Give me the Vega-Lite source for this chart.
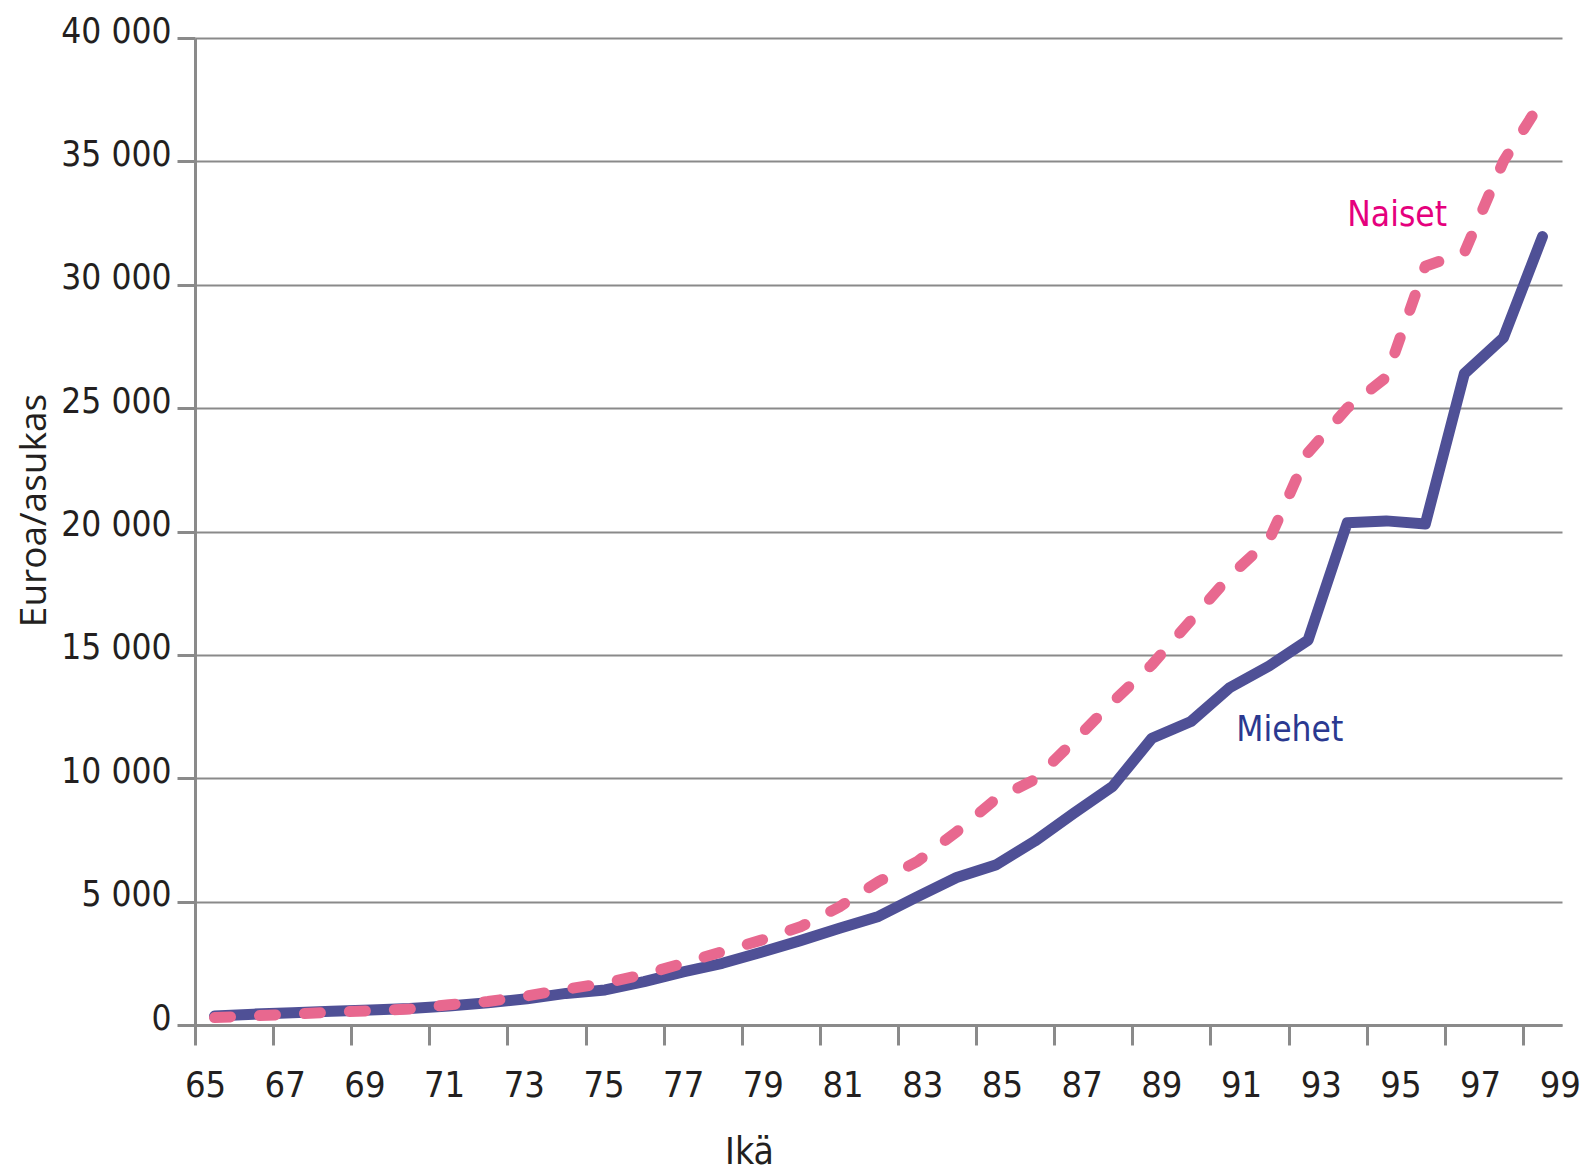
{
  "$schema": "https://vega.github.io/schema/vega-lite/v6.json",
  "width": 1367,
  "height": 987,
  "autosize": {"type": "none"},
  "padding": {"left": 195, "top": 38, "right": 31, "bottom": 146},
  "background": "white",
  "config": {
    "view": {"stroke": null},
    "axis": {
      "labelFont": "DejaVu Sans Condensed",
      "labelColor": "#231f20",
      "titleColor": "#231f20",
      "titleFont": "DejaVu Sans Condensed"
    }
  },
  "datasets": {
    "kulut": [
      {"ika": 65, "miehet": 360, "naiset": 300},
      {"ika": 66, "miehet": 440, "naiset": 370},
      {"ika": 67, "miehet": 500, "naiset": 440},
      {"ika": 68, "miehet": 560, "naiset": 520},
      {"ika": 69, "miehet": 610, "naiset": 580},
      {"ika": 70, "miehet": 670, "naiset": 650},
      {"ika": 71, "miehet": 770, "naiset": 820},
      {"ika": 72, "miehet": 900, "naiset": 950},
      {"ika": 73, "miehet": 1060, "naiset": 1180},
      {"ika": 74, "miehet": 1280, "naiset": 1450},
      {"ika": 75, "miehet": 1420, "naiset": 1700},
      {"ika": 76, "miehet": 1760, "naiset": 2050},
      {"ika": 77, "miehet": 2150, "naiset": 2500},
      {"ika": 78, "miehet": 2500, "naiset": 2970},
      {"ika": 79, "miehet": 2950, "naiset": 3440},
      {"ika": 80, "miehet": 3420, "naiset": 3980},
      {"ika": 81, "miehet": 3920, "naiset": 4790},
      {"ika": 82, "miehet": 4400, "naiset": 5810},
      {"ika": 83, "miehet": 5200, "naiset": 6630},
      {"ika": 84, "miehet": 5980, "naiset": 7830},
      {"ika": 85, "miehet": 6480, "naiset": 9150},
      {"ika": 86, "miehet": 7450, "naiset": 9950},
      {"ika": 87, "miehet": 8580, "naiset": 11500},
      {"ika": 88, "miehet": 9680, "naiset": 13100},
      {"ika": 89, "miehet": 11620, "naiset": 14600},
      {"ika": 90, "miehet": 12300, "naiset": 16400},
      {"ika": 91, "miehet": 13680, "naiset": 18200},
      {"ika": 92, "miehet": 14550, "naiset": 19650},
      {"ika": 93, "miehet": 15600, "naiset": 23200},
      {"ika": 94, "miehet": 20350, "naiset": 25000},
      {"ika": 95, "miehet": 20430, "naiset": 26250},
      {"ika": 96, "miehet": 20300, "naiset": 30750},
      {"ika": 97, "miehet": 26400, "naiset": 31300},
      {"ika": 98, "miehet": 27850, "naiset": 35000},
      {"ika": 99, "miehet": 31950, "naiset": 37500}
    ],
    "nimet": [
      {"ika": 95.28, "arvo": 32400, "teksti": "Naiset", "ryhma": "naiset"},
      {"ika": 92.53, "arvo": 11490, "teksti": "Miehet", "ryhma": "miehet"}
    ]
  },
  "layer": [
    {
      "data": {"name": "kulut"},
      "mark": {"type": "line", "color": "#4f5096", "strokeWidth": 11, "strokeJoin": "round", "strokeCap": "round"},
      "encoding": {
        "x": {
          "field": "ika",
          "type": "quantitative",
          "scale": {"domain": [64.5, 99.5], "nice": false, "zero": false},
          "axis": {
            "values": [64.5, 65.5, 66.5, 67.5, 68.5, 69.5, 70.5, 71.5, 72.5, 73.5, 74.5, 75.5, 76.5, 77.5, 78.5, 79.5, 80.5, 81.5, 82.5, 83.5, 84.5, 85.5, 86.5, 87.5, 88.5, 89.5, 90.5, 91.5, 92.5, 93.5, 94.5, 95.5, 96.5, 97.5, 98.5, 99.5],
            "labelExpr": "(datum.value + 0.5) % 2 == 1 ? format(datum.value + 0.5, 'd') : ''",
            "labelOffset": {"expr": "10 + (datum.value - 64.5) * 0.79"},
            "labelOverlap": false,
            "labelFlush": false,
            "labelBound": false,
            "labelFontSize": 36,
            "labelBaseline": "top",
            "labelPadding": 23,
            "tickSize": 20,
            "tickWidth": 3,
            "tickColor": "#8a8a8a",
            "domainColor": "#8a8a8a",
            "domainWidth": 3,
            "grid": false,
            "title": "Ikä",
            "titleFontSize": 37,
            "titleFontWeight": "normal",
            "titleX": 554,
            "titleY": 138,
            "titleBaseline": "alphabetic",
            "titleAlign": "center"
          }
        },
        "y": {
          "field": "miehet",
          "type": "quantitative",
          "scale": {"domain": [0, 40000], "nice": false},
          "axis": {
            "values": [0, 5000, 10000, 15000, 20000, 25000, 30000, 35000, 40000],
            "labelExpr": "replace(format(datum.value, ','), ',', ' ')",
            "labelFontSize": 35,
            "labelPadding": 6,
            "labelOffset": -7,
            "tickSize": 18,
            "tickWidth": 3,
            "tickColor": "#8a8a8a",
            "domainColor": "#8a8a8a",
            "domainWidth": 3,
            "grid": true,
            "gridColor": "#8a8a8a",
            "gridWidth": 2,
            "title": "Euroa/asukas",
            "titleFont": "Open Sans",
            "titleFontSize": 37,
            "titleFontWeight": "normal",
            "titleAngle": -90,
            "titleX": -150,
            "titleY": 472,
            "titleBaseline": "alphabetic",
            "titleAlign": "center"
          }
        }
      }
    },
    {
      "data": {"name": "kulut"},
      "mark": {"type": "line", "color": "#e8688f", "strokeWidth": 11, "strokeCap": "round", "strokeJoin": "round", "strokeDash": [16, 29]},
      "encoding": {
        "x": {"field": "ika", "type": "quantitative"},
        "y": {"field": "naiset", "type": "quantitative"}
      }
    },
    {
      "data": {"name": "nimet"},
      "mark": {"type": "text", "font": "DejaVu Sans Condensed", "fontSize": 35, "align": "center", "baseline": "alphabetic"},
      "encoding": {
        "x": {"field": "ika", "type": "quantitative"},
        "y": {"field": "arvo", "type": "quantitative"},
        "text": {"field": "teksti"},
        "color": {
          "field": "ryhma",
          "type": "nominal",
          "scale": {"domain": ["naiset", "miehet"], "range": ["#e5007d", "#2b3990"]},
          "legend": null
        }
      }
    }
  ]
}
